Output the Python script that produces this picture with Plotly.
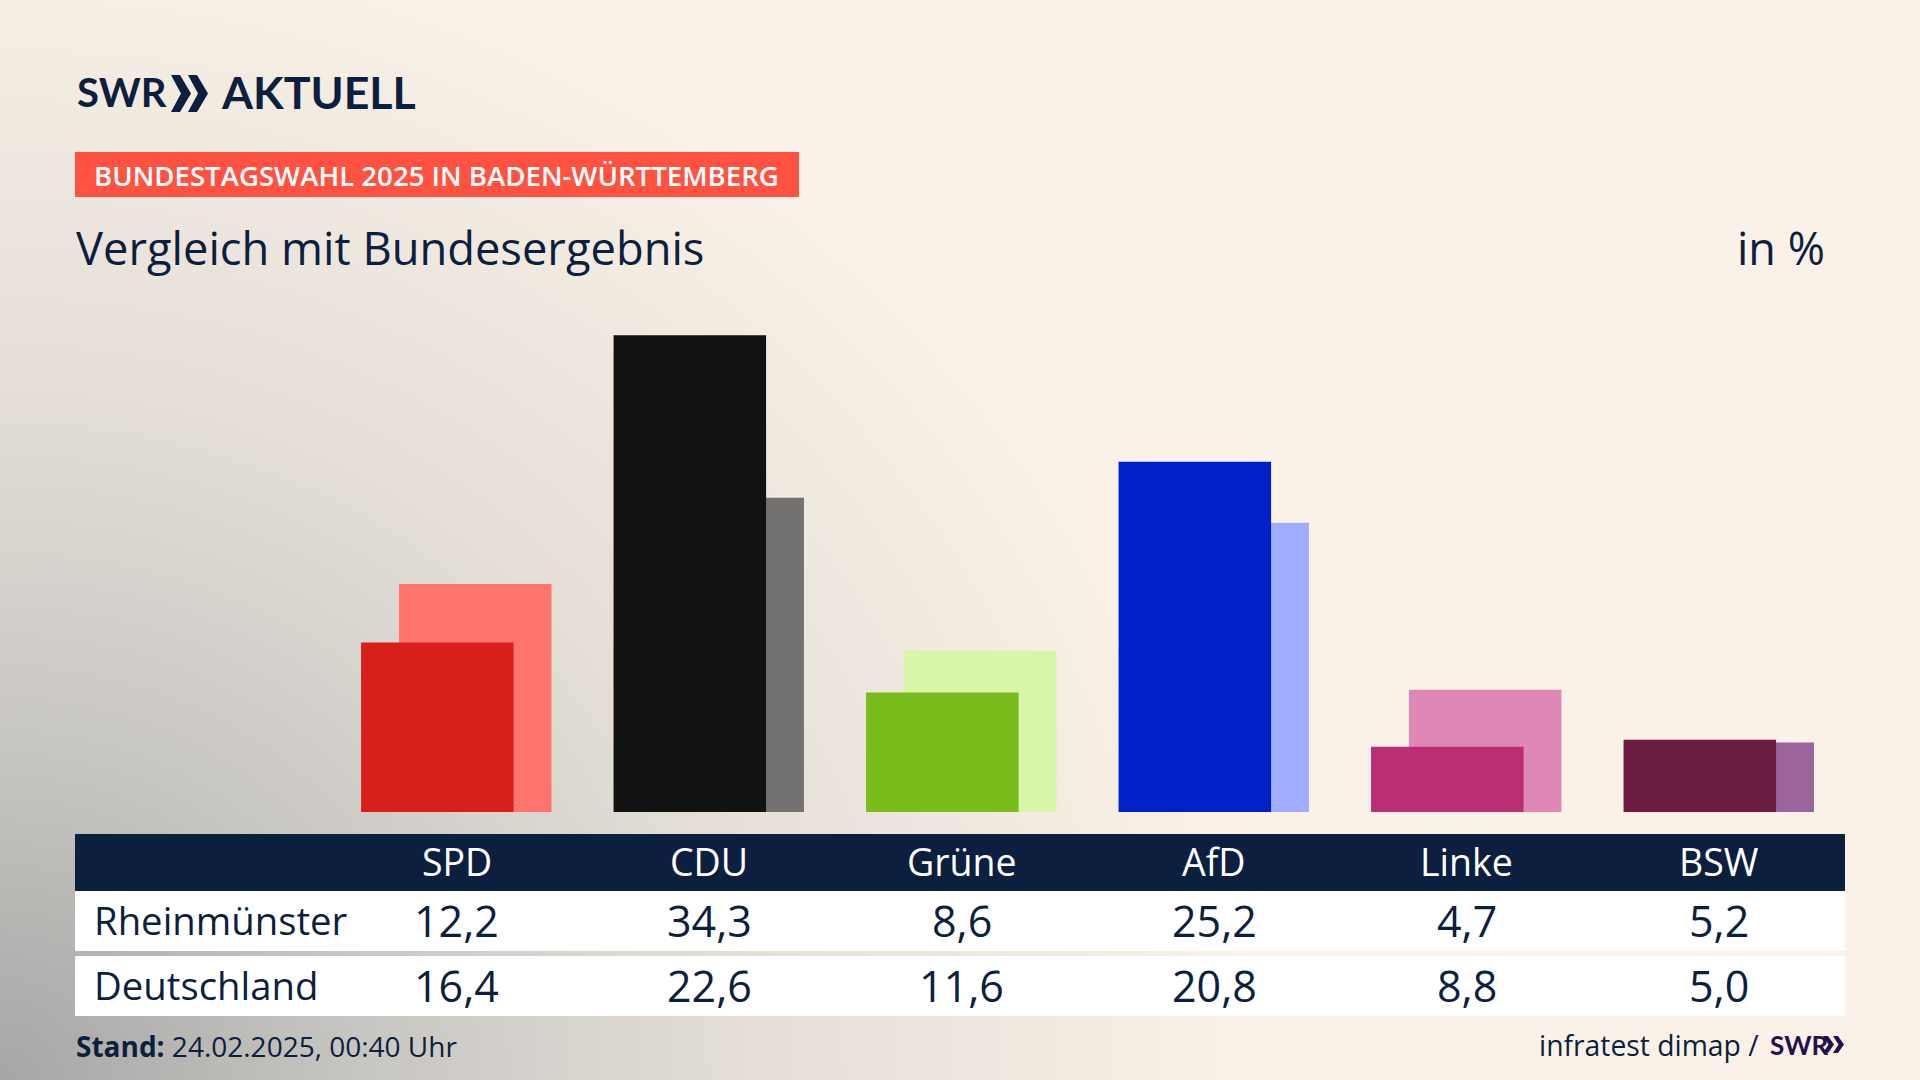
import base64
import plotly.graph_objects as go

W, H = 1920, 1080

parties = ["SPD", "CDU", "Grüne", "AfD", "Linke", "BSW"]
rheinmuenster = [12.2, 34.3, 8.6, 25.2, 4.7, 5.2]
deutschland = [16.4, 22.6, 11.6, 20.8, 8.8, 5.0]
colors_dark = ["#d81f1c", "#121212", "#7abc1c", "#0020c8", "#bb2e74", "#6b1a40"]
colors_light = ["#ff756e", "#737270", "#d8f5a9", "#a0adff", "#df88b6", "#9c649c"]
row_names = ["Rheinmünster", "Deutschland"]

NAVY = "#0c1f3e"
FONT = "Open Sans"
LOGO_FONT = "Lato"


def px(x):
    return x / W


def py(y):
    return 1 - y / H


def label(text, x, y, size, color=NAVY, anchor="left", family=FONT, weight=None, xref="paper"):
    return dict(text=text, x=x if xref == "x" else px(x), y=py(y), xref=xref, yref="paper",
                xanchor=anchor, yanchor="middle", showarrow=False,
                font=dict(family=family, size=size, color=color, weight=weight))


def fmt(v):
    return f"{v:.1f}".replace(".", ",")


def chevrons(x0, y0, h, w, gap, color):
    # the two arrows of the SWR logo
    shapes = []
    for i in range(2):
        x = x0 + i * gap
        path = (f"M {px(x)} {py(y0)} L {px(x + w * 0.45)} {py(y0)} L {px(x + w)} {py(y0 + h / 2)} "
                f"L {px(x + w * 0.45)} {py(y0 + h)} L {px(x)} {py(y0 + h)} L {px(x + w * 0.5)} {py(y0 + h / 2)} Z")
        shapes.append(dict(type="path", path=path, xref="paper", yref="paper", fillcolor=color, line_width=0))
    return shapes


def rect(x0, y0, x1, y1, color):
    return dict(type="rect", xref="paper", yref="paper", x0=px(x0), x1=px(x1), y0=py(y0), y1=py(y1),
                fillcolor=color, line_width=0, layer="below")


# background: grey glow from the bottom left corner into cream
svg = f"""<svg xmlns="http://www.w3.org/2000/svg" width="{W}" height="{H}">
<defs><radialGradient id="g" gradientUnits="userSpaceOnUse" cx="0" cy="0" r="1"
 gradientTransform="translate(0 1080) scale(1250 1160)">
<stop offset="0" stop-color="#a6a6a5"/><stop offset="0.3" stop-color="#c9c7c3"/>
<stop offset="0.6" stop-color="#e4ded7"/><stop offset="1" stop-color="#faf2e8"/>
</radialGradient></defs><rect width="{W}" height="{H}" fill="#faf2e8"/>
<rect width="{W}" height="{H}" fill="url(#g)"/></svg>"""
bg = "data:image/svg+xml;base64," + base64.b64encode(svg.encode()).decode()

fig = go.Figure()
fig.add_trace(go.Bar(x=parties, y=deutschland, name="Deutschland", marker_color=colors_light,
                     marker_line_width=0, width=0.604, offset=-0.228, hoverinfo="x+y"))
fig.add_trace(go.Bar(x=parties, y=rheinmuenster, name="Rheinmünster", marker_color=colors_dark,
                     marker_line_width=0, width=0.604, offset=-0.378, hoverinfo="x+y"))

shapes = [rect(75, 152, 799, 197, "#ff5240"),
          rect(75, 834, 1845, 891, NAVY),
          rect(75, 891, 1845, 951, "#ffffff"),
          rect(75, 956, 1845, 1016, "#ffffff")]
shapes += chevrons(171, 75, 37, 20, 17, NAVY)
shapes += chevrons(1823, 1036, 17, 11, 10, "#24104a")

annotations = [
    label("SWR", 75, 92, 40, family=LOGO_FONT, weight=700),
    label("AKTUELL", 219, 92, 44.7, family=LOGO_FONT, weight=700),
    label("BUNDESTAGSWAHL 2025 IN BADEN-WÜRTTEMBERG", 92, 174.5, 27.6, color="#ffffff", weight=600),
    label("Vergleich mit Bundesergebnis", 74, 247.5, 45.3),
    label("in %", 1827, 247.5, 45, anchor="right"),
    label("<b>Stand:</b> 24.02.2025, 00:40 Uhr", 74, 1046, 28),
    label("infratest dimap /", 1761, 1045, 28.3, anchor="right"),
    label("SWR", 1768, 1045, 26, color="#24104a", family=LOGO_FONT, weight=700),
]
for party in parties:
    annotations.append(label(party, party, 861, 37.5, color="#ffffff", anchor="center", xref="x"))
for name, values, y in zip(row_names, [rheinmuenster, deutschland], [920, 985]):
    annotations.append(label(name, 92, y, 38.3))
    for party, v in zip(parties, values):
        annotations.append(label(fmt(v), party, y, 43, anchor="center", xref="x"))

fig.update_layout(
    width=W, height=H, margin=dict(l=0, r=0, t=0, b=0), autosize=False,
    barmode="overlay", showlegend=False, font_family=FONT,
    paper_bgcolor="#faf2e8", plot_bgcolor="rgba(0,0,0,0)",
    images=[dict(source=bg, xref="paper", yref="paper", x=0, y=1, sizex=1, sizey=1,
                 sizing="stretch", xanchor="left", yanchor="top", layer="below")],
    shapes=shapes, annotations=annotations,
    xaxis=dict(type="category", categoryorder="array", categoryarray=parties, range=[-1.511, 5.499],
               domain=[px(75), px(1845)], showticklabels=False, showgrid=False, zeroline=False, ticks=""),
    yaxis=dict(range=[0, 36.83], domain=[py(812), py(300)], showticklabels=False,
               showgrid=False, zeroline=False, ticks=""),
)

fig.write_html("out.html", config=dict(displayModeBar=False),
               post_script="document.body.style.margin='0';")
